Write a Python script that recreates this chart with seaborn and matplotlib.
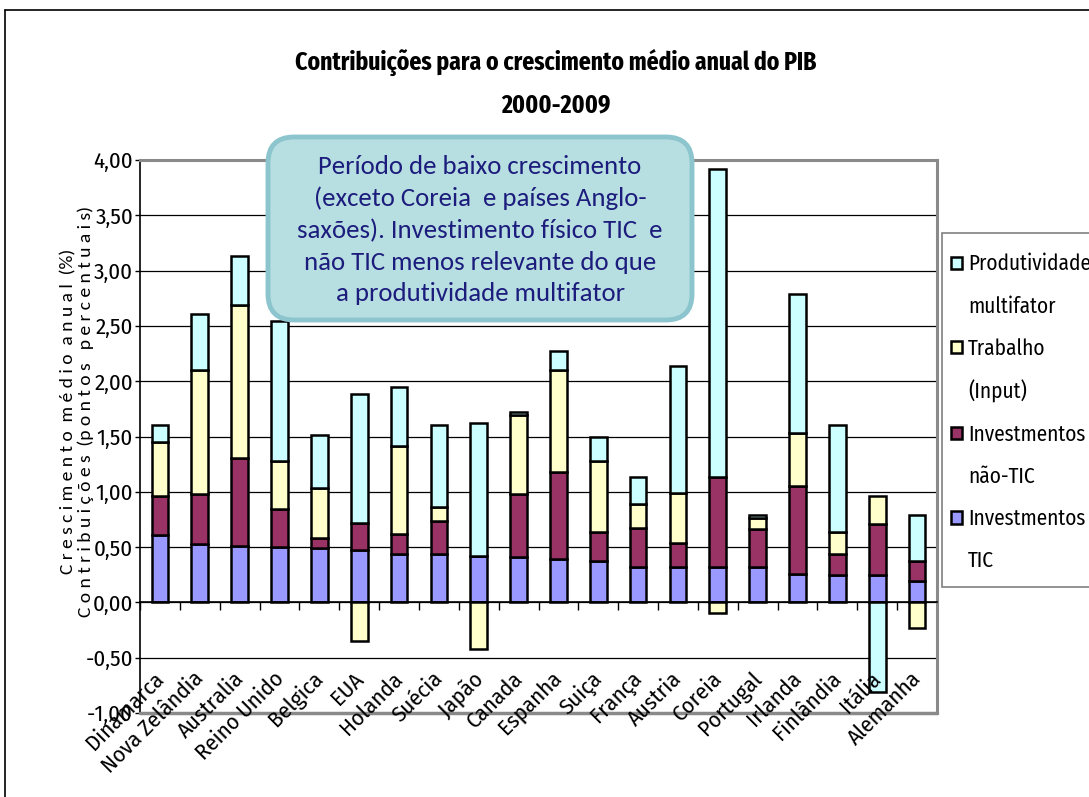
import numpy as np
import pandas as pd
import matplotlib
matplotlib.use("Agg")
import matplotlib.pyplot as plt
from matplotlib.patches import Patch, FancyBboxPatch, Rectangle
from matplotlib.lines import Line2D
import seaborn as sns

countries = ['Dinamarca', 'Nova Zelândia', 'Australia', 'Reino Unido', 'Belgica', 'EUA',
             'Holanda', 'Suécia', 'Japão', 'Canada', 'Espanha', 'Suiça', 'França', 'Austria',
             'Coreia', 'Portugal', 'Irlanda', 'Finlândia', 'Itália', 'Alemanha']
inv_tic = [0.61, 0.53, 0.51, 0.50, 0.49, 0.47, 0.44, 0.44, 0.42, 0.41,
           0.39, 0.37, 0.32, 0.32, 0.32, 0.32, 0.26, 0.25, 0.25, 0.19]
inv_nao_tic = [0.35, 0.45, 0.80, 0.34, 0.09, 0.25, 0.18, 0.30, 0.00, 0.57,
               0.79, 0.27, 0.35, 0.22, 0.81, 0.34, 0.79, 0.19, 0.46, 0.18]
trabalho = [0.49, 1.12, 1.38, 0.44, 0.45, -0.35, 0.79, 0.12, -0.42, 0.71,
            0.92, 0.64, 0.22, 0.45, -0.10, 0.10, 0.48, 0.20, 0.25, -0.23]
produtividade = [0.15, 0.51, 0.44, 1.26, 0.48, 1.16, 0.54, 0.74, 1.20, 0.03,
                 0.17, 0.22, 0.24, 1.15, 2.79, 0.03, 1.26, 0.96, -0.81, 0.42]

series_names = ['Investmentos\nTIC', 'Investmentos\nnão-TIC', 'Trabalho\n(Input)', 'Produtividade\nmultifator']
series_vals = [inv_tic, inv_nao_tic, trabalho, produtividade]
colors = ['#9999FF', '#993366', '#FFFFCC', '#CCFFFF']

title_l1 = 'Contribuições para o crescimento médio anual do PIB'
title_l2 = '2000-2009'
note = ('Período de baixo crescimento\n(exceto Coreia  e países Anglo-\n'
        'saxões). Investimento físico TIC  e\nnão TIC menos relevante do que\n'
        'a produtividade multifator')
ylab = ('C r e s c i m e n t o  m é d i o  a n u a l  (%)\n'
        'C o n t r i b u i ç õ e s  (p o n t o s   p e r c e n t u a i s)')

sns.set_style('white')
narrow = ['Fira Sans Condensed', 'DejaVu Sans']
calib = ['Carlito', 'DejaVu Sans']
plt.rcParams['font.family'] = narrow
plt.rcParams['text.color'] = 'black'
plt.rcParams['axes.labelcolor'] = 'black'
plt.rcParams['xtick.color'] = 'black'
plt.rcParams['ytick.color'] = 'black'

W, H = 1089, 797
fig = plt.figure(figsize=(W / 100, H / 100), dpi=100)
ax = fig.add_axes([140 / W, 1 - 713 / H, (937 - 140) / W, (713 - 160) / H])

pos_base = np.zeros(len(countries))
neg_base = np.zeros(len(countries))
for name, vals, col in zip(series_names, series_vals, colors):
    v = np.array(vals, dtype=float)
    bottom = np.where(v >= 0, pos_base, neg_base)
    df = pd.DataFrame({'pais': countries, 'valor': v})
    sns.barplot(data=df, x='pais', y='valor', order=countries, bottom=bottom,
                color=col, saturation=1, width=0.42, edgecolor='black',
                linewidth=1.8, ax=ax, zorder=3, errorbar=None)
    pos_base = pos_base + np.where(v >= 0, v, 0)
    neg_base = neg_base + np.where(v < 0, v, 0)

ax.set_xlim(-0.5, len(countries) - 0.5)
ax.set_ylim(-1, 4)
yt = np.arange(-1, 4.01, 0.5)
ax.set_yticks(yt)
ax.set_yticklabels([f'{t:.2f}'.replace('.', ',') for t in yt], fontsize=16.5)
for t in yt[1:-1]:
    ax.axhline(t, color='black', lw=0.9, zorder=1)

ax.set_xlabel('')
ax.set_ylabel(ylab, fontsize=14, family=calib, linespacing=1.05)
ax.yaxis.set_label_coords(-0.058, 0.545)

# x axis at zero with ticks between categories
ax.spines['bottom'].set_position(('data', 0))
ax.spines['bottom'].set_color('black')
ax.spines['bottom'].set_linewidth(1.2)
ax.spines['bottom'].set_zorder(4)
ax.spines['left'].set_color('black')
ax.spines['left'].set_linewidth(1.2)
for s in ['top', 'right']:
    ax.spines[s].set_color('#8a8a8a')
    ax.spines[s].set_linewidth(2.2)
ax.plot([0, 1], [0, 0], transform=ax.transAxes, color='#8a8a8a', lw=2.5,
        clip_on=False, zorder=5)

ax.set_xticks(range(len(countries)))
ax.set_xticklabels([])
ax.tick_params(axis='x', which='major', length=0)
ax.set_xticks(np.arange(-0.5, len(countries), 1), minor=True)
ax.tick_params(axis='x', which='minor', length=6, width=1, direction='out', color='black', bottom=True)
ax.tick_params(axis='y', length=3.5, width=1, direction='out', color='black', left=True, pad=1.5)

for i, c in enumerate(countries):
    ax.text(i + 0.02, -0.66, c, rotation=45, ha='right', va='center',
            rotation_mode='anchor', fontsize=16.5, zorder=6)

# title
tfam = ['Fira Sans Extra Condensed', 'DejaVu Sans']
fig.text(556 / W, 1 - 62 / H, title_l1, ha='center', va='center', fontsize=18.5,
         fontweight='bold', family=tfam)
fig.text(556 / W, 1 - 105 / H, title_l2, ha='center', va='center', fontsize=18.5,
         fontweight='bold', family=tfam)

# legend (frame drawn separately so the entries can sit like the original)
handles = []
labels = []
for name, col in zip(series_names[::-1], colors[::-1]):
    l1, l2 = name.split('\n')
    handles.append(Patch(facecolor=col, edgecolor='black', linewidth=1.8))
    labels.append(l1)
    handles.append(Patch(facecolor='none', edgecolor='none'))
    labels.append(l2)
leg = fig.legend(handles, labels, loc='upper left', bbox_to_anchor=(942 / W, 1 - 245 / H),
                 fontsize=15.3, frameon=False,
                 handlelength=0.52, handleheight=0.52, handletextpad=0.3,
                 labelspacing=0.98, borderpad=0.4, borderaxespad=0)
fig.add_artist(Rectangle((942 / W, 1 - 587 / H), 160 / W, (587 - 233) / H,
                         transform=fig.transFigure, facecolor='white',
                         edgecolor='#808080', linewidth=1.2, zorder=0.5))

# annotation box
bx0, by0, bx1, by1 = 268, 137, 692, 320
box = FancyBboxPatch((bx0 / W, 1 - by1 / H), (bx1 - bx0) / W, (by1 - by0) / H,
                     boxstyle='round,pad=0,rounding_size=0.024', mutation_aspect=W / H,
                     transform=fig.transFigure, facecolor='#B7DEE1', edgecolor='#8CC5CE',
                     linewidth=3.5, zorder=10)
fig.add_artist(box)
fig.text(480 / W, 1 - 230 / H, note, ha='center', va='center', fontsize=19.3,
         color='#1C1C7C', family=calib, linespacing=1.45, zorder=11)

# outer chart frame
fig.add_artist(Line2D([5 / W, 5 / W], [0, 1 - 10 / H], transform=fig.transFigure,
                      color='black', lw=1.2))
fig.add_artist(Line2D([5 / W, 1], [1 - 10 / H, 1 - 10 / H], transform=fig.transFigure,
                      color='black', lw=1.2))

fig.savefig('out.png', dpi=100)
